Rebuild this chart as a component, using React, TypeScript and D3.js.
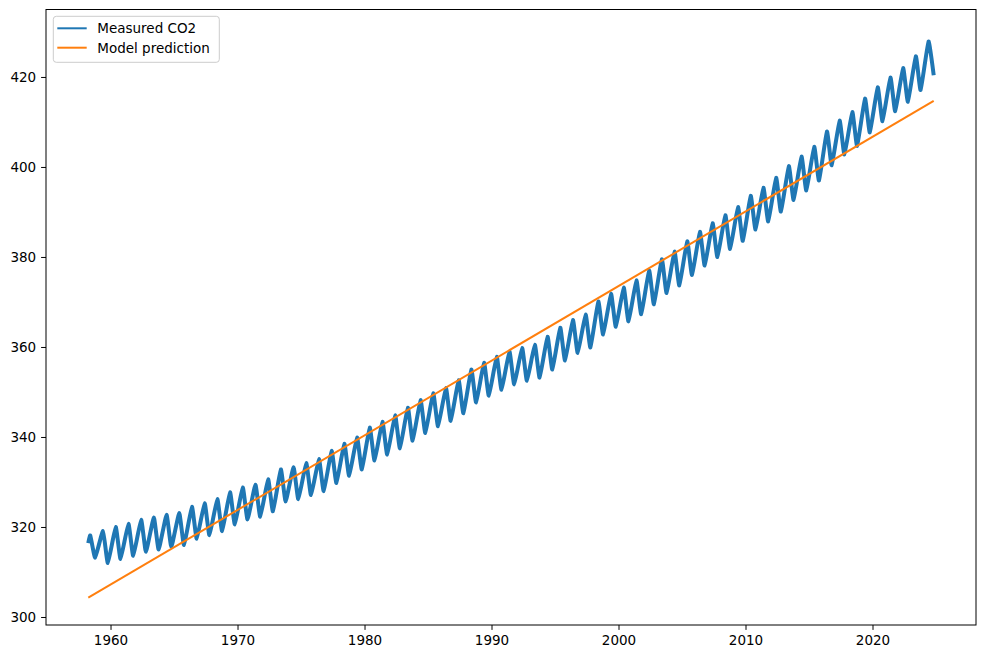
import React from "react";
import * as d3 from "d3";

// ---- Data ----
const years: number[] = [
  1958, 1959, 1960, 1961, 1962, 1963, 1964, 1965, 1966, 1967, 1968, 1969,
  1970, 1971, 1972, 1973, 1974, 1975, 1976, 1977, 1978, 1979, 1980, 1981,
  1982, 1983, 1984, 1985, 1986, 1987, 1988, 1989, 1990, 1991, 1992, 1993,
  1994, 1995, 1996, 1997, 1998, 1999, 2000, 2001, 2002, 2003, 2004, 2005,
  2006, 2007, 2008, 2009, 2010, 2011, 2012, 2013, 2014, 2015, 2016, 2017,
  2018, 2019, 2020, 2021, 2022, 2023, 2024,
];
// Seasonal maxima (around May) of the measured CO2, ppm
const peaks: number[] = [
  318.2, 319.2, 320.1, 320.8, 321.7, 322.2, 322.8, 323.2, 324.6, 325.4, 326.3, 327.8,
  328.9, 329.5, 330.7, 332.9, 333.4, 334.3, 335.2, 337.0, 338.6, 340.0, 342.2, 343.5,
  344.9, 346.6, 348.3, 349.8, 351.0, 352.7, 355.1, 356.6, 357.9, 359.1, 359.9, 360.6,
  362.4, 364.4, 366.1, 367.3, 370.2, 371.9, 373.3, 374.9, 377.1, 379.6, 381.3, 383.6,
  385.7, 387.6, 389.4, 391.2, 393.7, 395.5, 397.7, 400.3, 402.4, 404.6, 408.0, 410.4,
  412.3, 415.3, 417.8, 420.0, 422.1, 424.7, 428.0,
];
// Seasonal minima (around early October) of the measured CO2, ppm (1958–2023)
const troughs: number[] = [
  313.3, 312.1, 313.0, 313.7, 314.6, 315.1, 315.7, 316.1, 317.5, 318.3, 319.2, 320.7,
  321.8, 322.4, 323.6, 325.8, 326.3, 327.2, 328.1, 329.9, 331.5, 332.9, 334.9, 336.2,
  337.6, 339.3, 341.0, 342.5, 343.7, 345.4, 347.8, 349.3, 350.6, 351.8, 352.6, 353.3,
  355.1, 357.1, 358.8, 360.0, 362.9, 364.6, 365.8, 367.4, 369.6, 372.1, 373.8, 376.1,
  378.2, 380.1, 381.9, 383.7, 386.2, 388.0, 390.2, 392.8, 394.9, 397.1, 400.5, 402.9,
  404.8, 407.8, 410.3, 412.5, 414.6, 417.2,
];
const measuredStart: [number, number] = [1958.21, 316.5];
const measuredEnd: [number, number] = [2024.78, 420.5];
const peakPhase = 0.37;
const troughPhase = 0.75;

// Linear model prediction (end points)
const modelDates: number[] = [1958.21, 2024.78];
const modelValues: number[] = [304.4, 414.8];

const xTicks: number[] = [1960, 1970, 1980, 1990, 2000, 2010, 2020];
const yTicks: number[] = [300, 320, 340, 360, 380, 400, 420];
const seriesNames: string[] = ["Measured CO2", "Model prediction"];
const colors: string[] = ["#1f77b4", "#ff7f0e"];

// ---- Layout ----
const W = 986;
const H = 659;
const plot = { left: 46, right: 976, top: 9.5, bottom: 625 };
const FONT = "DejaVu Sans, sans-serif";
const FS = 13.5;

export default function App() {
  const x = d3.scaleLinear().domain([1954.88, 2028.11]).range([plot.left, plot.right]);
  const y = d3.scaleLinear().domain([298.33, 435.1]).range([plot.bottom, plot.top]);

  const measured: [number, number][] = [measuredStart];
  years.forEach((yr, i) => {
    measured.push([yr + peakPhase, peaks[i]]);
    if (i < troughs.length) measured.push([yr + troughPhase, troughs[i]]);
  });
  measured.push(measuredEnd);

  const line = d3
    .line<[number, number]>()
    .x((d) => x(d[0]))
    .y((d) => y(d[1]))
    .curve(d3.curveCardinal.tension(0.6));

  const model: [number, number][] = modelDates.map((d, i) => [d, modelValues[i]]);
  const modelLine = d3
    .line<[number, number]>()
    .x((d) => x(d[0]))
    .y((d) => y(d[1]));

  const tickLen = 4.9;
  const legend = { x: 53.3, y: 16.3, w: 166, h: 46 };
  const rowY = [28.3, 47.7];

  return (
    <svg
      width={W}
      height={H}
      style={{ position: "absolute", left: 0, top: 0, background: "#fff" }}
      fontFamily={FONT}
    >
      <rect x={0} y={0} width={W} height={H} fill="#fff" />
      <defs>
        <clipPath id="plotclip">
          <rect x={plot.left} y={plot.top} width={plot.right - plot.left} height={plot.bottom - plot.top} />
        </clipPath>
      </defs>
      <g clipPath="url(#plotclip)">
        <path d={line(measured) || ""} fill="none" stroke={colors[0]} strokeWidth={4} strokeLinejoin="round" />
        <path d={modelLine(model) || ""} fill="none" stroke={colors[1]} strokeWidth={2} />
      </g>
      {/* frame */}
      <rect
        x={plot.left}
        y={plot.top}
        width={plot.right - plot.left}
        height={plot.bottom - plot.top}
        fill="none"
        stroke="#000"
        strokeWidth={1}
      />
      {/* x axis */}
      {xTicks.map((t) => (
        <g key={"x" + t}>
          <line x1={x(t)} x2={x(t)} y1={plot.bottom} y2={plot.bottom + tickLen} stroke="#000" strokeWidth={1} />
          <text x={x(t)} y={plot.bottom + tickLen + 4.9} fontSize={FS} textAnchor="middle" dominantBaseline="hanging" fill="#000">
            {t}
          </text>
        </g>
      ))}
      {/* y axis */}
      {yTicks.map((t) => (
        <g key={"y" + t}>
          <line x1={plot.left - tickLen} x2={plot.left} y1={y(t)} y2={y(t)} stroke="#000" strokeWidth={1} />
          <text x={plot.left - tickLen - 4.9} y={y(t)} fontSize={FS} textAnchor="end" dominantBaseline="central" fill="#000">
            {t}
          </text>
        </g>
      ))}
      {/* legend */}
      <rect
        x={legend.x}
        y={legend.y}
        width={legend.w}
        height={legend.h}
        rx={3}
        fill="#fff"
        fillOpacity={0.8}
        stroke="#cccccc"
        strokeWidth={1}
      />
      {seriesNames.map((name, i) => (
        <g key={name}>
          <line x1={57.3} x2={86.7} y1={rowY[i]} y2={rowY[i]} stroke={colors[i]} strokeWidth={2} />
          <text x={97.3} y={rowY[i]} fontSize={FS} dominantBaseline="central" fill="#000">
            {name}
          </text>
        </g>
      ))}
    </svg>
  );
}
